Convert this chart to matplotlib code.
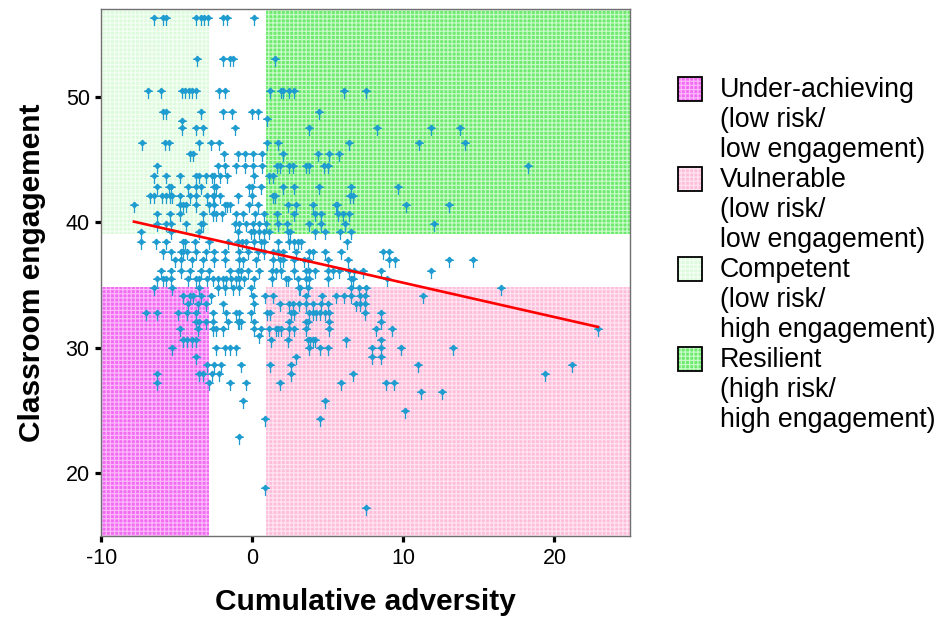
import numpy as np
import matplotlib.pyplot as plt
from matplotlib.path import Path
from matplotlib.patches import Rectangle

plt.rcParams['font.family'] = ['Liberation Sans', 'DejaVu Sans']
plt.rcParams['hatch.linewidth'] = 0.9
plt.rcParams['axes.unicode_minus'] = False

# classroom engagement levels, and the cumulative adversity scores of the pupils at each level
engagement_levels = [56.15, 52.87, 50.34, 48.62, 48.1, 47.9, 47.34, 46.17, 45.32, 44.36,
                     43.51, 42.63, 41.92, 41.2, 40.5, 39.7, 39.05, 38.3, 37.5, 36.8,
                     36.0, 35.3, 34.6, 34.0, 33.3, 32.6, 31.9, 31.3, 30.8, 30.5,
                     29.84, 29.1, 28.46, 27.77, 27.0, 26.3, 25.6, 24.8, 24.2, 22.7,
                     18.7, 17.1]
adversity_by_level = [
    [-6.49, -5.94, -5.72, -3.73, -3.40, -3.18, -2.96, -1.92, -1.70, 0.07],
    [-3.69, -1.92, -1.48, -1.26, 1.46],
    [-6.93, -6.09, -4.66, -4.44, -4.22, -3.99, -3.73, -2.23, -1.85, 1.19, 1.90, 2.05, 2.45, 2.78, 6.09, 7.5],
    [-5.94, -5.72, -3.40, -1.92, -1.34, -0.02, 0.35, 4.39],
    [0.95],
    [-4.66],
    [-4.66, -3.73, -3.25, -1.19, 3.77, 8.23, 11.79, 13.75],
    [-7.33, -5.78, -5.50, -3.56, -2.78, -2.19, 0.95, 1.72, 6.36, 11.06, 14.09],
    [-4.17, -3.91, -1.90, -0.97, -0.48, 0.02, 0.62, 2.05, 4.37, 5.10, 5.70],
    [-6.34, -2.30, -1.85, -1.08, -0.48, 0.02, 0.62, 1.61, 1.79, 2.45, 2.67, 3.56, 3.77, 4.72, 4.99, 18.23],
    [-6.49, -5.72, -4.77, -3.73, -3.56, -3.07, -2.67, -2.52, -2.14, -1.68, 0.09, 1.08, 1.34],
    [-6.34, -5.50, -5.38, -4.28, -3.73, -3.40, -2.52, -2.40, -0.20, -0.02, 0.58, 2.05, 2.78, 4.39, 6.55, 9.62],
    [-6.82, -6.49, -6.01, -5.72, -5.45, -5.34, -4.83, -4.17, -3.73, -3.00, -2.63, -2.52, -2.14, -0.93,
     -0.02, 1.34, 1.52, 6.47, 6.69],
    [-7.85, -4.83, -4.62, -4.39, -3.73, -2.89, -2.58, -1.85, -1.68, -1.52, -0.25, 0.35, 2.34, 2.89,
     3.99, 5.50, 5.58, 10.18, 13.0],
    [-6.34, -5.45, -4.83, -3.29, -2.63, -2.40, -2.01, -1.08, -0.60, 0.18, 0.73, 1.61, 2.78, 4.11,
     4.55, 5.65, 5.98, 6.38],
    [-6.34, -5.72, -5.38, -4.39, -3.44, -3.29, -1.13, -0.86, -0.42, 0.02, 0.46, 0.91, 1.68, 2.27,
     3.73, 4.55, 6.16, 11.99],
    [-7.37, -5.38, -3.51, -0.97, -0.09, 0.07, 0.46, 0.73, 1.08, 2.34, 2.50, 4.11, 4.77, 5.81, 6.54],
    [-7.37, -6.42, -5.72, -4.62, -4.44, -3.84, -2.85, -1.64, -0.97, -0.68, -0.42, 0.07, 0.58, 0.79,
     1.68, 2.45, 2.78, 3.00, 3.23, 6.25],
    [-5.94, -5.38, -4.72, -4.62, -4.35, -3.73, -3.07, -2.52, -1.85, -0.86, -0.31, 0.35, 0.73, 1.34,
     1.68, 2.05, 2.89, 3.77, 3.99, 4.77, 5.87, 8.63, 9.07],
    [-5.10, -4.72, -3.99, -3.29, -2.52, -1.85, -0.86, -0.64, 0.25, 1.34, 1.79, 2.05, 2.78, 3.44,
     3.66, 4.99, 6.31, 9.03, 9.47, 13.0, 14.59],
    [-6.05, -5.38, -4.72, -4.17, -3.40, -2.85, -1.52, -0.97, -0.75, -0.31, 0.46, 1.30, 1.57, 1.90,
     2.78, 3.56, 3.77, 4.11, 4.99, 5.36, 5.76, 6.42, 6.75, 7.35, 8.52, 11.79],
    [-6.34, -5.94, -5.72, -5.38, -4.28, -3.73, -3.51, -3.03, -2.63, -2.30, -1.97, -1.74, -1.41, -1.08,
     -0.86, -0.53, 0.13, 1.30, 2.23, 2.34, 3.00, 3.56, 3.77, 4.99, 6.54, 6.65, 8.89],
    [-6.49, -5.32, -3.51, -2.30, -1.85, -1.30, -0.91, -0.09, 3.07, 3.16, 3.66, 6.54, 7.04, 7.53, 16.47],
    [-4.62, -4.17, -3.95, -3.40, -2.74, 0.02, 0.86, 1.34, 3.56, 4.62, 5.50, 6.09, 6.54, 7.09, 7.42, 11.28],
    [-4.28, -3.62, -3.07, -1.97, 0.13, 1.79, 2.45, 2.67, 3.11, 3.56, 3.99, 4.55, 4.99, 6.87, 7.09, 7.42],
    [-7.04, -6.34, -4.95, -4.35, -3.73, -2.63, -1.74, -1.08, -0.86, -0.09, 0.95, 1.17, 2.56, 2.78,
     3.77, 3.99, 4.22, 4.44, 4.77, 5.10, 7.42, 8.52],
    [-3.73, -3.51, -3.07, -2.63, -1.64, -0.97, -0.86, -0.75, 0.13, 2.45, 3.56, 3.66, 5.10, 8.52],
    [-4.83, -3.62, -2.63, -2.40, -1.92, 0.13, 0.58, 1.08, 1.57, 1.68, 1.90, 2.45, 2.78, 3.56, 5.10,
     8.19, 9.25, 22.87],
    [0.46],
    [-4.62, -4.35, -3.99, -3.73, 1.24, 2.34, 3.66, 3.82, 3.99, 4.11, 6.21, 8.52],
    [-5.32, -2.40, -1.85, -1.52, -1.08, 3.77, 4.48, 4.99, 7.93, 8.52, 9.85, 13.27],
    [-3.73, 2.89, 7.93, 8.52],
    [-3.03, -2.52, -2.07, -0.75, 1.17, 2.56, 10.95, 21.15],
    [-6.34, -3.56, -3.29, -2.67, -2.19, 2.56, 6.69, 19.40],
    [-6.34, -2.89, -1.48, -0.42, 1.79, 5.83, 8.85, 9.36],
    [11.17, 12.54],
    [-0.60, 4.77],
    [10.11],
    [0.86, 4.50],
    [-0.86],
    [0.86],
    [7.53],
]

# fitted regression line of engagement on adversity
fit_intercept = 37.91
fit_slope = -0.273

# cut-offs splitting the plane into the four groups
risk_low, risk_high = -2.85, 0.9
engage_low, engage_high = 34.85, 39.1

group_names = ['Under-achieving', 'Vulnerable', 'Competent', 'Resilient']
group_notes = [['(low risk/', 'low engagement)'],
               ['(low risk/', 'low engagement)'],
               ['(low risk/', 'high engagement)'],
               ['(high risk/', 'high engagement)']]
group_face = ['#f26cf2', '#ffbddb', '#dcfadc', '#6eea6e']
group_hatch = ['#fbb8fb', '#ffe4f0', '#f4fff4', '#c8f9c8']

xlim = (-10, 25)
ylim = (15, 57)

x = np.concatenate([np.array(v, dtype=float) for v in adversity_by_level])
y = np.concatenate([np.full(len(v), lev) for lev, v in zip(engagement_levels, adversity_by_level)])

# small diamond head with a cross bar, on a thin stem
marker_verts = [(0, 0.46), (0.24, 0.22), (0, -0.02), (-0.24, 0.22), (0, 0.46),
                (-0.4, 0.2), (0.4, 0.2),
                (0, 0.5), (0, -0.5)]
marker_codes = [Path.MOVETO, Path.LINETO, Path.LINETO, Path.LINETO, Path.CLOSEPOLY,
                Path.MOVETO, Path.LINETO,
                Path.MOVETO, Path.LINETO]
pin = Path(marker_verts, marker_codes)

fig = plt.figure(figsize=(9.38, 6.23), dpi=100)
ax = fig.add_axes([0.1082, 0.1396, 0.5634, 0.846])

boxes = [
    (xlim[0], ylim[0], risk_low - xlim[0], engage_low - ylim[0]),
    (risk_high, ylim[0], xlim[1] - risk_high, engage_low - ylim[0]),
    (xlim[0], engage_high, risk_low - xlim[0], ylim[1] - engage_high),
    (risk_high, engage_high, xlim[1] - risk_high, ylim[1] - engage_high),
]
for (bx, by, bw, bh), fc, hc in zip(boxes, group_face, group_hatch):
    ax.add_patch(Rectangle((bx, by), bw, bh, facecolor=fc, edgecolor=hc,
                           linewidth=0, hatch='++++', zorder=1))

ax.scatter(x, y, marker=pin, s=64, facecolor='#3aaee0', edgecolor='#1e9ccf',
           linewidths=0.9, zorder=3)

fx = np.array([x.min(), x.max()])
ax.plot(fx, fit_intercept + fit_slope * fx, color='#ff0000', linewidth=1.9, zorder=4)

ax.set_xlim(*xlim)
ax.set_ylim(*ylim)
ax.set_xticks([-10, 0, 10, 20])
ax.set_yticks([20, 30, 40, 50])
ax.tick_params(axis='both', which='major', direction='out', length=4.5, width=2.3,
               color='black', labelsize=15.5, pad=4)
for side in ['left', 'bottom', 'right', 'top']:
    ax.spines[side].set_color('#707070')
    ax.spines[side].set_linewidth(1.0)

ax.set_xlabel('Cumulative adversity', fontsize=21.5, fontweight='bold', labelpad=14)
ax.set_ylabel('Classroom engagement', fontsize=21.5, fontweight='bold', labelpad=14)

# group key on the right
W, H = 938.0, 623.0
for i, (name, notes) in enumerate(zip(group_names, group_notes)):
    base = 97 + i * 90
    fig.add_artist(Rectangle((678 / W, 1 - (base + 4) / H), 24 / W, 24 / H,
                             transform=fig.transFigure, facecolor=group_face[i],
                             edgecolor=group_hatch[i], linewidth=0, hatch='++++'))
    fig.add_artist(Rectangle((678 / W, 1 - (base + 4) / H), 24 / W, 24 / H,
                             transform=fig.transFigure, fill=False,
                             edgecolor='black', linewidth=1.3))
    for j, line in enumerate([name] + notes):
        fig.text(720 / W, 1 - (base + 30 * j) / H, line, fontsize=19.3,
                 va='baseline', ha='left')

fig.savefig('out.png', dpi=100)
